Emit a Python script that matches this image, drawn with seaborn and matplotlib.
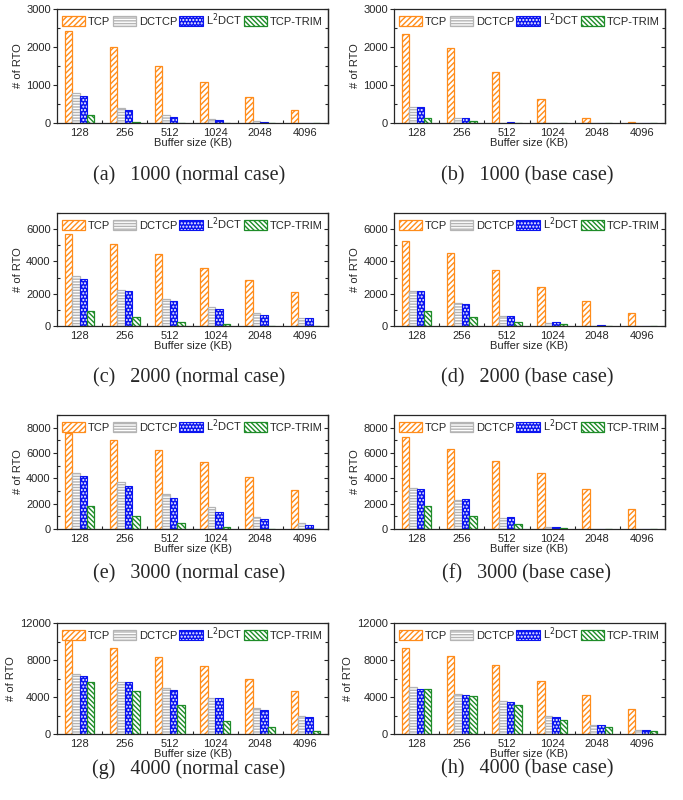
import pandas as pd
import matplotlib
matplotlib.use("Agg")
import matplotlib.pyplot as plt
from matplotlib.patches import Patch
from matplotlib.ticker import MultipleLocator, FixedLocator
import seaborn as sns

# ---- data -------------------------------------------------------------
buffers = ["128", "256", "512", "1024", "2048", "4096"]
protocols = ["TCP", "DCTCP", "L$^2$DCT", "TCP-TRIM"]

# 1000 flows
tcp_1000_normal = [2430, 1990, 1500, 1070, 690, 340]
dctcp_1000_normal = [780, 400, 200, 100, 40, 5]
l2dct_1000_normal = [700, 335, 160, 70, 20, 0]
trim_1000_normal = [220, 35, 0, 0, 0, 0]

tcp_1000_base = [2340, 1970, 1340, 630, 130, 15]
dctcp_1000_base = [410, 120, 5, 0, 0, 0]
l2dct_1000_base = [410, 120, 15, 0, 0, 0]
trim_1000_base = [130, 40, 0, 0, 0, 0]

# 2000 flows
tcp_2000_normal = [5730, 5110, 4450, 3570, 2880, 2100]
dctcp_2000_normal = [3070, 2250, 1650, 1150, 780, 470]
l2dct_2000_normal = [2930, 2140, 1530, 1030, 660, 480]
trim_2000_normal = [910, 560, 270, 120, 0, 0]

tcp_2000_base = [5280, 4500, 3480, 2430, 1550, 820]
dctcp_2000_base = [2150, 1400, 600, 160, 20, 0]
l2dct_2000_base = [2140, 1350, 600, 230, 80, 0]
trim_2000_base = [900, 560, 270, 110, 0, 0]

# 3000 flows
tcp_3000_normal = [7600, 7000, 6250, 5290, 4100, 3060]
dctcp_3000_normal = [4410, 3720, 2740, 1750, 960, 450]
l2dct_3000_normal = [4180, 3430, 2450, 1360, 770, 290]
trim_3000_normal = [1810, 1060, 450, 130, 0, 0]

tcp_3000_base = [7230, 6330, 5400, 4390, 3160, 1540]
dctcp_3000_base = [3240, 2310, 900, 130, 0, 0]
l2dct_3000_base = [3160, 2340, 920, 160, 0, 0]
trim_3000_base = [1810, 1010, 430, 50, 0, 0]

# 4000 flows
tcp_4000_normal = [10190, 9290, 8310, 7340, 5960, 4620]
dctcp_4000_normal = [6540, 5640, 4950, 3870, 2780, 1990]
l2dct_4000_normal = [6220, 5600, 4770, 3870, 2600, 1840]
trim_4000_normal = [5640, 4660, 3140, 1410, 720, 290]

tcp_4000_base = [9290, 8460, 7410, 5780, 4260, 2670]
dctcp_4000_base = [5060, 4340, 3580, 1920, 980, 430]
l2dct_4000_base = [4840, 4230, 3470, 1840, 940, 400]
trim_4000_base = [4840, 4120, 3140, 1480, 720, 320]

captions = [
    "(a)   1000 (normal case)", "(b)   1000 (base case)",
    "(c)   2000 (normal case)", "(d)   2000 (base case)",
    "(e)   3000 (normal case)", "(f)   3000 (base case)",
    "(g)   4000 (normal case)", "(h)   4000 (base case)",
]
series = [
    (tcp_1000_normal, dctcp_1000_normal, l2dct_1000_normal, trim_1000_normal),
    (tcp_1000_base, dctcp_1000_base, l2dct_1000_base, trim_1000_base),
    (tcp_2000_normal, dctcp_2000_normal, l2dct_2000_normal, trim_2000_normal),
    (tcp_2000_base, dctcp_2000_base, l2dct_2000_base, trim_2000_base),
    (tcp_3000_normal, dctcp_3000_normal, l2dct_3000_normal, trim_3000_normal),
    (tcp_3000_base, dctcp_3000_base, l2dct_3000_base, trim_3000_base),
    (tcp_4000_normal, dctcp_4000_normal, l2dct_4000_normal, trim_4000_normal),
    (tcp_4000_base, dctcp_4000_base, l2dct_4000_base, trim_4000_base),
]
y_max = [3000, 7000, 9000, 12000]
y_step = [1000, 2000, 2000, 4000]

# ---- style ------------------------------------------------------------
sns.set_style("ticks")
plt.rcParams["font.family"] = ["Liberation Sans", "DejaVu Sans"]
plt.rcParams["hatch.linewidth"] = 1.0
plt.rcParams["axes.linewidth"] = 0.9

ORANGE = "#FF8C1A"
GRAY = "#B4B4B4"
BLUE = "#0A14F0"
GREEN = "#1E8C28"
bar_styles = [
    dict(facecolor="white", edgecolor=ORANGE, hatch="//////", linewidth=0.9),
    dict(facecolor="white", edgecolor=GRAY, hatch="------", linewidth=0.9),
    dict(facecolor=BLUE, edgecolor=BLUE, hatch=".....", linewidth=0.8),
    dict(facecolor="white", edgecolor=GREEN, hatch="\\\\\\\\\\\\\\", linewidth=0.9),
]
WHITE_RGBA = (1.0, 1.0, 1.0, 1.0)
FS = 8

W, H = 683, 800
fig = plt.figure(figsize=(W / 100, H / 100), dpi=100)

col_x = [57, 394]
ax_w = 271
rows = [(9, 123), (213, 326), (415, 529), (623, 734)]
cap_y = [176, 378, 574, 769]
cap_x = [189, 527]


def style_patch(p, st, dots_white):
    p.set_facecolor(st["facecolor"])
    p.set_edgecolor(st["edgecolor"])
    p.set_hatch(st["hatch"])
    p.set_linewidth(st["linewidth"])
    if dots_white:
        # blue bars carry white dots inside a blue outline
        p._hatch_color = WHITE_RGBA


for i, (vals, cap) in enumerate(zip(series, captions)):
    r, c = divmod(i, 2)
    top, bot = rows[r]
    ax = fig.add_axes([col_x[c] / W, 1 - bot / H, ax_w / W, (bot - top) / H])

    df = pd.DataFrame({
        "buffer": buffers * len(protocols),
        "rto": [v for s in vals for v in s],
        "protocol": [p for p in protocols for _ in buffers],
    })
    sns.barplot(data=df, x="buffer", y="rto", hue="protocol",
                order=buffers, hue_order=protocols, width=0.66, gap=0,
                errorbar=None, legend=False, saturation=1, ax=ax)
    for k, (cont, st) in enumerate(zip(ax.containers, bar_styles)):
        for bar in cont:
            style_patch(bar, st, k == 2)

    handles = []
    for k, (p, st) in enumerate(zip(protocols, bar_styles)):
        h = Patch(label=p)
        style_patch(h, st, k == 2)
        handles.append(h)
    ax.legend(handles=handles, loc="upper center", ncol=4, frameon=False,
              fontsize=FS, handlelength=2.1, handleheight=1.0,
              handletextpad=0.25, columnspacing=0.2, borderaxespad=0.15,
              borderpad=0.1)

    ax.set_xlim(-0.5, 5.5)
    ax.set_ylim(0, y_max[r])
    ax.yaxis.set_major_locator(MultipleLocator(y_step[r]))
    ax.yaxis.set_minor_locator(MultipleLocator(y_step[r] / 2))
    ax.xaxis.set_minor_locator(FixedLocator([0.5, 1.5, 2.5, 3.5, 4.5]))
    ax.tick_params(axis="y", which="major", direction="out", length=3,
                   width=0.8, labelsize=FS, pad=1.5, right=False)
    ax.tick_params(axis="y", which="minor", direction="in", length=2,
                   width=0.8, right=False)
    ax.tick_params(axis="x", which="major", length=0, labelsize=FS, pad=3.5)
    ax.tick_params(axis="x", which="minor", direction="in", length=2.5,
                   width=0.8)

    sec = ax.secondary_yaxis("right")
    sec.yaxis.set_major_locator(MultipleLocator(y_step[r]))
    sec.yaxis.set_minor_locator(MultipleLocator(y_step[r] / 2))
    sec.tick_params(which="major", direction="in", length=3, width=0.8,
                    labelright=False)
    sec.tick_params(which="minor", direction="in", length=2, width=0.8)

    ax.set_xlabel("Buffer size (KB)", fontsize=FS, labelpad=0.3)
    ax.set_ylabel("# of RTO", fontsize=FS, labelpad=2.5)

    fig.text(cap_x[c] / W, 1 - cap_y[r] / H, cap, ha="center", va="center",
             fontsize=14.5, family=["Liberation Serif", "DejaVu Serif"])

fig.savefig("out.png", dpi=100)
